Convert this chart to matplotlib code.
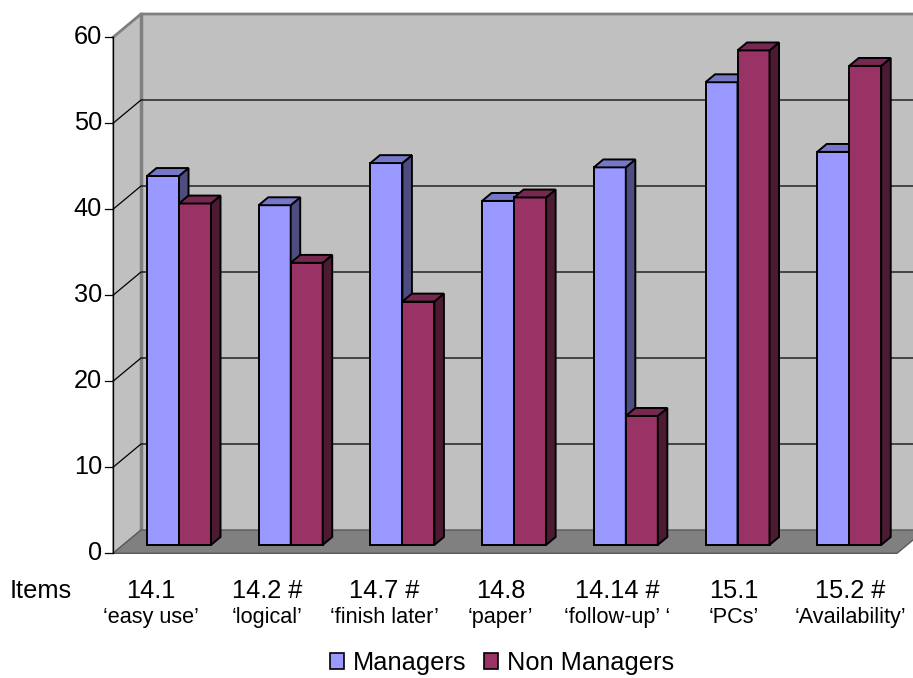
import matplotlib
matplotlib.use('Agg')
import matplotlib.pyplot as plt
from matplotlib.patches import Polygon, Patch

items = ['14.1', '14.2 #', '14.7 #', '14.8', '14.14 #', '15.1', '15.2 #']
item_names = ['‘easy use’', '‘logical’', '‘finish later’', '‘paper’',
              '‘follow-up’ ‘', '‘PCs’', '‘Availability’']
managers = [42.9, 39.5, 44.4, 40.0, 43.9, 53.8, 45.7]
non_managers = [39.7, 32.8, 28.3, 40.4, 15.0, 57.5, 55.7]
series_names = ['Managers', 'Non Managers']
y_ticks = [0, 10, 20, 30, 40, 50, 60]

plt.rcParams['font.family'] = ['Liberation Sans', 'DejaVu Sans']

# pixel -> data mapping (1 unit per category on x, value units on y)
PX_X, PX_Y = 111.7, 8.6
fig = plt.figure(figsize=(9.13, 6.78), dpi=100)
ax = fig.add_axes([0, 0, 1, 1])
ax.set_xlim(-179 / PX_X, (913 - 179) / PX_X)
ax.set_ylim((553.3 - 678) / PX_Y, 553.3 / PX_Y)
ax.axis('off')

# 3d box geometry
DX, DY = 28 / PX_X, 23.3 / PX_Y
x0, xR = (113 - 179) / PX_X, (897 - 179) / PX_X
top = max(y_ticks)
wall_c, floor_c, line_c = '#C0C0C0', '#808080', '#808080'

ax.add_patch(Polygon([(x0, 0), (x0, top), (x0 + DX, top + DY), (x0 + DX, DY)],
                     facecolor=wall_c, edgecolor=line_c, lw=1, zorder=1))
ax.add_patch(Polygon([(x0 + DX, DY), (x0 + DX, top + DY), (xR + DX + 1, top + DY), (xR + DX + 1, DY)],
                     facecolor=wall_c, edgecolor='none', zorder=1))
ax.plot([x0, x0 + DX, xR + DX + 1], [top, top + DY, top + DY], color=line_c, lw=2, zorder=1.5)
ax.plot([x0 + DX, x0 + DX], [DY, top + DY], color=line_c, lw=2.5, zorder=1.5)

for v in y_ticks[1:-1]:
    ax.plot([x0, x0 + DX, xR + DX + 1], [v, v + DY, v + DY], color='black', lw=0.9, zorder=1.6)

ax.add_patch(Polygon([(x0, 0), (xR, 0), (xR + DX, DY), (x0 + DX, DY)],
                     facecolor=floor_c, edgecolor='#5a5a5a', lw=1, zorder=1.7))

# front value axis
big = 18.3
tick_len = 8 / PX_X
ax.plot([x0, x0], [0, top], color='black', lw=0.9, zorder=2)
for v in y_ticks:
    ax.plot([x0 - tick_len, x0], [v, v], color='black', lw=0.9, zorder=2)
    ax.text(x0 - 11 / PX_X, v, str(v), ha='right', va='center', fontsize=big)


def shade(hex_color, f):
    r, g, b = matplotlib.colors.to_rgb(hex_color)
    return (r * f, g * f, b * f)


# bars
bw = 32 / PX_X
base = 0.36 * DY
bdx, bdy = 0.34 * DX, 0.34 * DY
colors = ['#9999FF', '#993366']
xs = list(range(len(items)))
for k, (vals, col) in enumerate(zip([managers, non_managers], colors)):
    bars = ax.bar([x - bw + k * bw for x in xs], vals, width=bw, bottom=base, align='edge',
                  color=col, edgecolor='black', lw=1.4, zorder=3 + k)
    for r in bars:
        bx, by, w, h = r.get_x(), r.get_y(), r.get_width(), r.get_height()
        ax.add_patch(Polygon([(bx + w, by), (bx + w + bdx, by + bdy), (bx + w + bdx, by + h + bdy), (bx + w, by + h)],
                             facecolor=shade(col, 0.5), edgecolor='black', lw=1.4, zorder=3 + k))
        ax.add_patch(Polygon([(bx, by + h), (bx + w, by + h), (bx + w + bdx, by + h + bdy), (bx + bdx, by + h + bdy)],
                             facecolor=shade(col, 0.78), edgecolor='black', lw=1.4, zorder=3 + k))

# category labels
lab0, lab_step = (151 - 179) / PX_X, 116.5 / PX_X
y1, y2 = (553.3 - 598) / PX_Y, (553.3 - 622.7) / PX_Y
ax.text((10 - 179) / PX_X, y1, 'Items', ha='left', va='baseline', fontsize=big)
for i, (a, b) in enumerate(zip(items, item_names)):
    ax.text(lab0 + i * lab_step, y1, a, ha='center', va='baseline', fontsize=big)
    ax.text(lab0 + i * lab_step, y2, b, ha='center', va='baseline', fontsize=15.6)

handles = [Patch(facecolor=c, edgecolor='black', lw=1.2) for c in colors]
fig.legend(handles, series_names, loc='center', bbox_to_anchor=(502 / 913, 1 - 663 / 678),
           ncol=2, frameon=False, fontsize=big, handlelength=0.55, handleheight=0.55,
           handletextpad=0.35, columnspacing=0.7, borderpad=0)

plt.savefig('out.png', dpi=100)
